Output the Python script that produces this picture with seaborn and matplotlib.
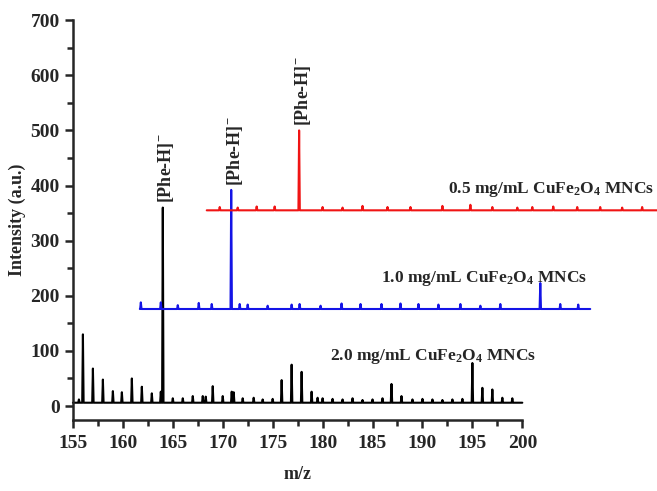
import numpy as np
import pandas as pd
import matplotlib
matplotlib.use('Agg')
import matplotlib.pyplot as plt
import seaborn as sns

# ---- data ----
# 2.0 mg/mL trace (black)
black_range = [155.0, 200.0]
black_base = 6
black_mz = [155.6, 156.0, 157.0, 158.0, 159.0, 159.9, 160.9, 161.9, 162.9, 163.8, 164.0,
            165.0, 166.0, 167.0, 168.0, 168.3, 169.0, 170.0, 170.9, 171.1, 172.0, 173.1,
            174.0, 175.0, 175.9, 176.9, 177.9, 178.9, 179.5, 180.0, 181.0, 182.0, 183.0,
            184.0, 185.0, 186.0, 186.9, 187.9, 189.0, 190.0, 191.0, 192.0, 193.0, 194.0,
            195.0, 196.0, 197.0, 198.0, 199.0]
black_int = [12, 130, 68, 48, 27, 25, 50, 35, 23, 26, 360,
             14, 14, 18, 18, 17, 36, 18, 26, 25, 14, 15,
             12, 13, 47, 75, 62, 26, 15, 14, 13, 12, 14,
             11, 12, 14, 40, 18, 12, 13, 12, 11, 12, 13,
             78, 33, 30, 15, 14]

# 1.0 mg/mL trace (blue)
blue_range = [161.7, 206.8]
blue_base = 176
blue_mz = [161.8, 163.8, 165.5, 167.6, 168.9, 170.85, 171.7, 172.5, 174.5, 176.9, 177.7,
           179.8, 181.9, 183.8, 185.9, 187.8, 189.6, 191.6, 193.8, 195.8, 197.8,
           201.8, 203.8, 205.6]
blue_int = [188, 188, 183, 187, 185, 392, 185, 184, 182, 184, 185,
            182, 186, 185, 185, 186, 185, 184, 185, 182, 185,
            223, 185, 184]

# 0.5 mg/mL trace (red)
red_range = [168.4, 213.5]
red_base = 355
red_mz = [169.7, 171.5, 173.4, 175.2, 177.65, 180.0, 182.0, 184.0, 186.5, 188.8,
          192.0, 194.8, 197.0, 199.5, 201.0, 203.1, 205.5, 207.8, 210.0, 212.0]
red_int = [361, 360, 362, 362, 500, 361, 360, 363, 361, 361,
           363, 365, 361, 360, 361, 362, 361, 361, 360, 361]

peak_label = r'[Phe-H]$^{-}$'
label_peaks = [(164.0, 360), (170.85, 392), (177.65, 500)]
trace_labels = ['2.0 mg/mL CuFe$_2$O$_4$ MNCs',
                '1.0 mg/mL CuFe$_2$O$_4$ MNCs',
                '0.5 mg/mL CuFe$_2$O$_4$ MNCs']
trace_label_pos = [(180.75, 83), (185.8, 225), (192.6, 387)]
colors = ['#000000', '#1414e6', '#f01414']


def build(rng, base, mz, inten, name):
    xs, ys = [rng[0]], [base]
    for m, h in zip(mz, inten):
        xs += [m - 0.07, m, m + 0.07]
        ys += [base, h, base]
    xs.append(rng[1])
    ys.append(base)
    return pd.DataFrame({'mz': xs, 'intensity': ys, 'trace': name})


df = pd.concat([
    build(black_range, black_base, black_mz, black_int, '2.0'),
    build(blue_range, blue_base, blue_mz, blue_int, '1.0'),
    build(red_range, red_base, red_mz, red_int, '0.5'),
])

sns.set_style('ticks')
plt.rcParams['font.family'] = ['Liberation Serif', 'DejaVu Serif']
plt.rcParams['font.weight'] = 'bold'
plt.rcParams['mathtext.fontset'] = 'custom'
plt.rcParams['mathtext.rm'] = 'Liberation Serif:bold'
plt.rcParams['mathtext.bf'] = 'Liberation Serif:bold'
plt.rcParams['mathtext.it'] = 'Liberation Serif:bold'
plt.rcParams['mathtext.default'] = 'bf'

fig = plt.figure(figsize=(6.57, 4.91), dpi=100)
ax = fig.add_axes([0.111, 0.145, 0.684, 0.814])

for name, col in zip(['2.0', '1.0', '0.5'], colors):
    sns.lineplot(data=df[df['trace'] == name], x='mz', y='intensity', ax=ax,
                 color=col, lw=1.5, sort=False, estimator=None)
for line in ax.lines:
    line.set_clip_on(False)

for (x, y) in label_peaks:
    ax.text(x + 0.35, y + 8, peak_label, rotation=90, ha='center', va='bottom',
            fontsize=13, fontweight='bold')

for txt, (x, y) in zip(trace_labels, trace_label_pos):
    ax.text(x, y, txt, ha='left', va='baseline', fontsize=12.5, fontweight='bold')

ax.set_xlim(155, 200)
ax.set_ylim(-25, 700)
ax.set_xticks(np.arange(155, 201, 5))
ax.set_xticks(np.arange(157.5, 200, 5), minor=True)
ax.set_yticks(np.arange(0, 701, 100))
ax.set_yticks(np.arange(50, 700, 100), minor=True)
ax.tick_params(axis='both', which='major', direction='out', length=6, width=1.8,
               labelsize=14)
ax.tick_params(axis='x', which='major', pad=5)
ax.tick_params(axis='both', which='minor', direction='out', length=4, width=1.8)
for lab in ax.get_xticklabels() + ax.get_yticklabels():
    lab.set_fontweight('bold')

sns.despine(ax=ax)
ax.spines['left'].set_linewidth(1.8)
ax.spines['bottom'].set_linewidth(1.8)

ax.set_xlabel('m/z', fontsize=13, fontweight='bold')
ax.xaxis.set_label_coords(0.5, -0.115)
ax.set_ylabel('Intensity (a.u.)', fontsize=13, fontweight='bold', labelpad=3)

fig.savefig('out.png', dpi=100)
